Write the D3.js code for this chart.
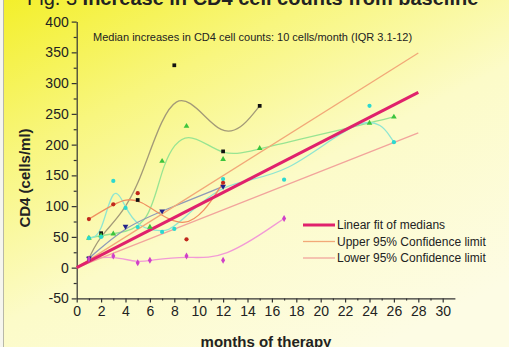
<!DOCTYPE html>
<html>
<head>
<meta charset="utf-8">
<script src="https://cdn.jsdelivr.net/npm/d3@7"></script>
<style>
  html, body { margin: 0; padding: 0; overflow: hidden; }
  svg { display: block; font-family: "Liberation Sans", Arial, sans-serif; }
</style>
</head>
<body>
<div id="grafico"></div>
<script>
// DATA (months of therapy / CD4 increase)
var blackMonths = [1, 2, 5, 8, 12, 15];
var blackCD4 = [15, 56, 110, 329, 189, 263];

var greenMonths = [1, 2, 3, 6, 7, 9, 12, 15, 24, 26];
var greenCD4 = [48, 52, 55, 66, 173, 230, 176, 194, 235, 245];

var cyanMonths = [1, 2, 3, 4, 5, 7, 8, 12, 17, 24, 26];
var cyanCD4 = [48, 50, 141, 97, 66, 58, 63, 144, 143, 263, 204];

var navyMonths = [1, 4, 7, 12];
var navyCD4 = [15, 67, 92, 132];

var redMonths = [1, 3, 5, 9, 12];
var redCD4 = [79, 103, 121, 46, 138];

var pinkMonths = [1, 3, 5, 6, 9, 12, 17];
var pinkCD4 = [14, 19, 8, 12, 19, 12, 80];

// fit of medians and 95% confidence limits
var fitMonths = [0, 28];
var fitCD4 = [0, 285];
var upperCD4 = [0, 349];
var lowerCD4 = [0, 219];

var xTicks = [0, 2, 4, 6, 8, 10, 12, 14, 16, 18, 20, 22, 24, 26, 28, 30];
var yTicks = [-50, 0, 50, 100, 150, 200, 250, 300, 350, 400];

var legendLabels = ["Linear fit of medians", "Upper 95% Confidence limit", "Lower 95% Confidence limit"];

var width = 509, height = 347;

var svg = d3.select("#grafico")
    .append("svg")
    .attr("width", width)
    .attr("height", height);

// background (yellow slide gradient)
var defs = svg.append("defs");
var grad = defs.append("linearGradient")
    .attr("id", "fondo")
    .attr("x1", "0").attr("y1", "0")
    .attr("x2", "0.75").attr("y2", "1");
grad.append("stop").attr("offset", "0").attr("stop-color", "#f3ef2a");
grad.append("stop").attr("offset", "0.3").attr("stop-color", "#f8f67e");
grad.append("stop").attr("offset", "0.6").attr("stop-color", "#fcfbc8");
grad.append("stop").attr("offset", "1").attr("stop-color", "#fdfce4");

svg.append("rect")
    .attr("width", width)
    .attr("height", height)
    .attr("fill", "url(#fondo)");
svg.append("rect")
    .attr("width", 3)
    .attr("height", height)
    .attr("fill", "#f6f6ee");
svg.append("line")
    .attr("x1", 3.5).attr("x2", 3.5)
    .attr("y1", 0).attr("y2", height)
    .attr("stroke", "#b8b8a8")
    .attr("stroke-width", 1);

// scales
var x = d3.scaleLinear().domain([0, 31]).range([76.7, 454.9]);
var y = d3.scaleLinear().domain([-50, 400]).range([298.4, 21.6]);

// axes
var xAxis = svg.append("g")
    .attr("transform", "translate(0," + y(-50) + ")")
    .call(d3.axisBottom(x).tickValues(xTicks).tickSize(4).tickSizeOuter(0).tickPadding(4));
var xMinor = svg.append("g")
    .attr("transform", "translate(0," + y(-50) + ")")
    .call(d3.axisBottom(x).tickValues(d3.range(1, 31, 2)).tickSize(2).tickFormat(""));

var yAxis = svg.append("g")
    .attr("transform", "translate(" + x(0) + ",0)")
    .call(d3.axisLeft(y).tickValues(yTicks).tickSize(5).tickSizeOuter(0).tickPadding(3)
        .tickFormat(function (d) { return String(d); }));
var yMinor = svg.append("g")
    .attr("transform", "translate(" + x(0) + ",0)")
    .call(d3.axisLeft(y).tickValues(d3.range(-25, 400, 50)).tickSize(3).tickFormat(""));

[xAxis, xMinor, yAxis, yMinor].forEach(function (g) {
    g.selectAll("path").attr("stroke", "#333").attr("stroke-width", 1.2);
    g.selectAll("line").attr("stroke", "#333").attr("stroke-width", 1.2);
    g.selectAll("text")
        .attr("fill", "#222")
        .style("font-size", "14px")
        .style("font-family", "Liberation Sans, Arial, sans-serif");
});
xMinor.select("path").remove();
yMinor.select("path").remove();

// axis titles
svg.append("text")
    .attr("x", 266)
    .attr("y", 347)
    .attr("text-anchor", "middle")
    .style("font-size", "15px")
    .style("font-weight", "bold")
    .attr("fill", "#222")
    .text("months of therapy");

svg.append("text")
    .attr("transform", "translate(30,178) rotate(-90)")
    .attr("text-anchor", "middle")
    .style("font-size", "15px")
    .style("font-weight", "bold")
    .attr("fill", "#222")
    .text("CD4 (cells/ml)");

// title (clipped at the top like the slide)
var titulo = svg.append("text")
    .attr("x", 27)
    .attr("y", 5)
    .style("font-size", "20px")
    .attr("fill", "#222");
titulo.append("tspan").text("Fig. 3  ");
titulo.append("tspan").style("font-weight", "bold").text("Increase in CD4 cell counts from baseline");

svg.append("text")
    .attr("x", 93)
    .attr("y", 41)
    .style("font-size", "11px")
    .attr("fill", "#222")
    .text("Median increases in CD4 cell counts: 10 cells/month (IQR 3.1-12)");

// patient series: smoothed curves + symbols
var series = [
    { m: blackMonths, v: blackCD4, line: "#a39a78", dot: "#111111", sym: d3.symbolSquare },
    { m: greenMonths, v: greenCD4, line: "#98e492", dot: "#3cc43c", sym: d3.symbolTriangle },
    { m: cyanMonths, v: cyanCD4, line: "#8fe6d2", dot: "#2cd8d0", sym: d3.symbolCircle },
    { m: navyMonths, v: navyCD4, line: "#8e9ab8", dot: "#22228a", sym: d3.symbolTriangle, flip: true },
    { m: redMonths, v: redCD4, line: "#f09060", dot: "#c0281c", sym: d3.symbolCircle },
    { m: pinkMonths, v: pinkCD4, line: "#f29ad6", dot: "#d040c8", sym: d3.symbolDiamond }
];

var curva = d3.line()
    .x(function (d) { return x(d[0]); })
    .y(function (d) { return y(d[1]); })
    .curve(d3.curveBasis);

var recta = d3.line()
    .x(function (d) { return x(d[0]); })
    .y(function (d) { return y(d[1]); });

series.forEach(function (s) {
    var pts = s.m.map(function (d, i) { return [d, s.v[i]]; });
    svg.append("path")
        .datum(pts)
        .attr("d", curva)
        .attr("fill", "none")
        .attr("stroke", s.line)
        .attr("stroke-width", 1.3);
});

// confidence limits and fit line
var limites = [
    { v: upperCD4, color: "#f2a878", w: 1.3 },
    { v: lowerCD4, color: "#f2a49c", w: 1.3 },
    { v: fitCD4, color: "#e0226c", w: 3 }
];
limites.forEach(function (l) {
    svg.append("path")
        .datum(fitMonths.map(function (d, i) { return [d, l.v[i]]; }))
        .attr("d", recta)
        .attr("fill", "none")
        .attr("stroke", l.color)
        .attr("stroke-width", l.w);
});

series.forEach(function (s) {
    var pts = s.m.map(function (d, i) { return [d, s.v[i]]; });
    svg.selectAll(null)
        .data(pts)
        .enter()
        .append("path")
        .attr("d", d3.symbol().type(s.sym).size(14))
        .attr("transform", function (d) {
            return "translate(" + x(d[0]) + "," + y(d[1]) + ")" + (s.flip ? " rotate(180)" : "");
        })
        .attr("fill", s.dot);
});

// legend
var legend = svg.selectAll(".legend")
    .data(legendLabels)
    .enter()
    .append("g")
    .attr("class", "legend")
    .attr("transform", function (d, i) { return "translate(303," + (225 + i * 16.5) + ")"; });

legend.append("line")
    .attr("x1", 0).attr("x2", 32)
    .attr("stroke", function (d, i) { return limites[[2, 0, 1][i]].color; })
    .attr("stroke-width", function (d, i) { return i == 0 ? 3 : 1.3; });

legend.append("text")
    .attr("x", 34)
    .attr("dy", "0.35em")
    .style("font-size", "12px")
    .attr("fill", "#222")
    .text(function (d) { return d; });
</script>
</body>
</html>
